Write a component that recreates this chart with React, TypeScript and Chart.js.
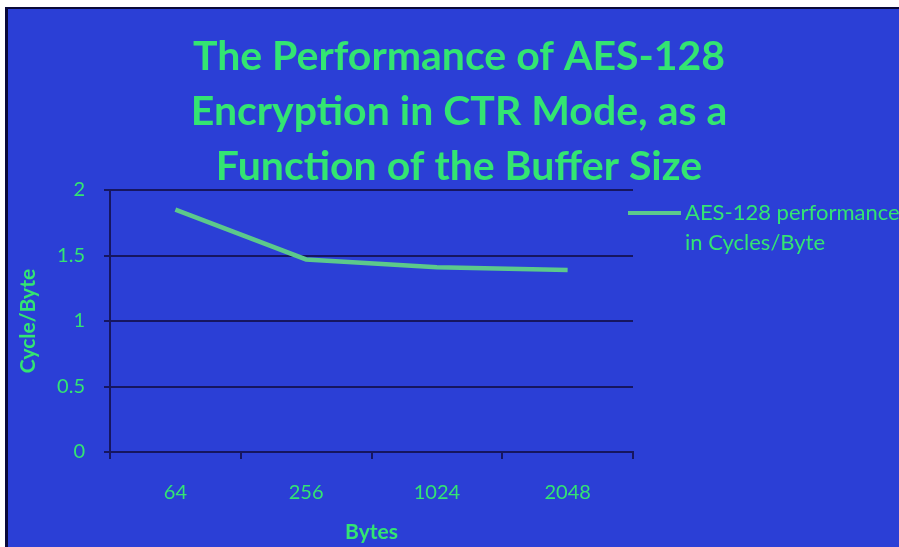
import React, { useEffect, useRef } from "react";
import { Chart, registerables } from "chart.js";

Chart.register(...registerables);

const categories = ["64", "256", "1024", "2048"];
const cyclesPerByte = [1.85, 1.47, 1.41, 1.39];
const yMin = 0;
const yMax = 2;
const yStep = 0.5;
const titleLines = [
  "The Performance of AES-128",
  "Encryption in CTR Mode, as a",
  "Function of the Buffer Size",
];
const legendLines = ["AES-128 performance", "in Cycles/Byte"];
const xAxisTitle = "Bytes";
const yAxisTitle = "Cycle/Byte";

const BG = "#2b3fd6";
const GREEN = "#33e572";
const LINE = "#5cc98b";
const DARK = "#161660";
const FONT = "Lato, 'Open Sans', sans-serif";

const decorPlugin = {
  id: "decor",
  beforeDraw(chart: any) {
    const { ctx, width, height } = chart;
    ctx.save();
    ctx.fillStyle = "#ffffff";
    ctx.fillRect(0, 0, width, height);
    ctx.fillStyle = "#0a0a3a";
    ctx.fillRect(5, 7, width - 5, height - 7);
    ctx.fillStyle = BG;
    ctx.fillRect(8, 9, width - 8, height - 9);
    // title
    ctx.fillStyle = GREEN;
    ctx.font = `bold 41px ${FONT}`;
    ctx.textAlign = "center";
    ctx.textBaseline = "middle";
    titleLines.forEach((t, i) => ctx.fillText(t, 459, 57 + i * 55));
    ctx.restore();
  },
  afterDraw(chart: any) {
    const { ctx } = chart;
    const ds = chart.data.datasets[0];
    ctx.save();
    ctx.strokeStyle = ds.borderColor;
    ctx.lineWidth = 4;
    ctx.beginPath();
    ctx.moveTo(628, 213);
    ctx.lineTo(681, 213);
    ctx.stroke();
    ctx.fillStyle = GREEN;
    ctx.font = `22px ${FONT}`;
    ctx.textAlign = "left";
    ctx.textBaseline = "middle";
    legendLines.forEach((t, i) => ctx.fillText(t, 685, 213 + i * 30));
    ctx.restore();
  },
};

export default function App() {
  const ref = useRef<HTMLCanvasElement | null>(null);
  useEffect(() => {
    if (!ref.current) return;
    const chart = new Chart(ref.current, {
      type: "line",
      data: {
        labels: categories,
        datasets: [
          {
            label: legendLines.join(" "),
            data: cyclesPerByte,
            borderColor: LINE,
            borderWidth: 4.5,
            pointRadius: 0,
            tension: 0,
            fill: false,
          },
        ],
      },
      options: {
        responsive: false,
        animation: false,
        layout: { padding: { top: 190, right: 266, left: 0, bottom: 0 } },
        plugins: {
          legend: { display: false },
          title: { display: false },
          tooltip: { enabled: false },
        },
        scales: {
          x: {
            type: "category",
            offset: true,
            afterFit: (s: any) => {
              s.height = 95;
            },
            grid: {
              offset: true,
              drawOnChartArea: false,
              drawTicks: true,
              tickLength: 7,
              color: DARK,
              lineWidth: 2,
            },
            border: { color: DARK, width: 2 },
            ticks: {
              color: GREEN,
              font: { family: FONT, size: 20 },
              padding: 22,
              maxRotation: 0,
            },
            title: {
              display: true,
              text: xAxisTitle,
              color: GREEN,
              font: { family: FONT, size: 21, weight: "bold" },
              padding: { top: 0, bottom: 2 },
            },
          },
          y: {
            min: yMin,
            max: yMax,
            afterFit: (s: any) => {
              s.width = 110;
            },
            ticks: {
              stepSize: yStep,
              color: GREEN,
              font: { family: FONT, size: 20 },
              padding: 19,
              callback: (v: any) => String(Number(v)),
            },
            grid: {
              color: DARK,
              lineWidth: 2,
              drawTicks: true,
              tickLength: 6,
            },
            border: { color: DARK, width: 2 },
            title: {
              display: true,
              text: yAxisTitle,
              color: GREEN,
              font: { family: FONT, size: 21, weight: "bold" },
              padding: { top: 16, bottom: 0 },
            },
          },
        },
      },
      plugins: [decorPlugin],
    });
    return () => chart.destroy();
  }, []);
  return (
    <div style={{ position: "absolute", left: 0, top: 0 }}>
      <canvas ref={ref} width={899} height={547} style={{ display: "block" }} />
    </div>
  );
}
